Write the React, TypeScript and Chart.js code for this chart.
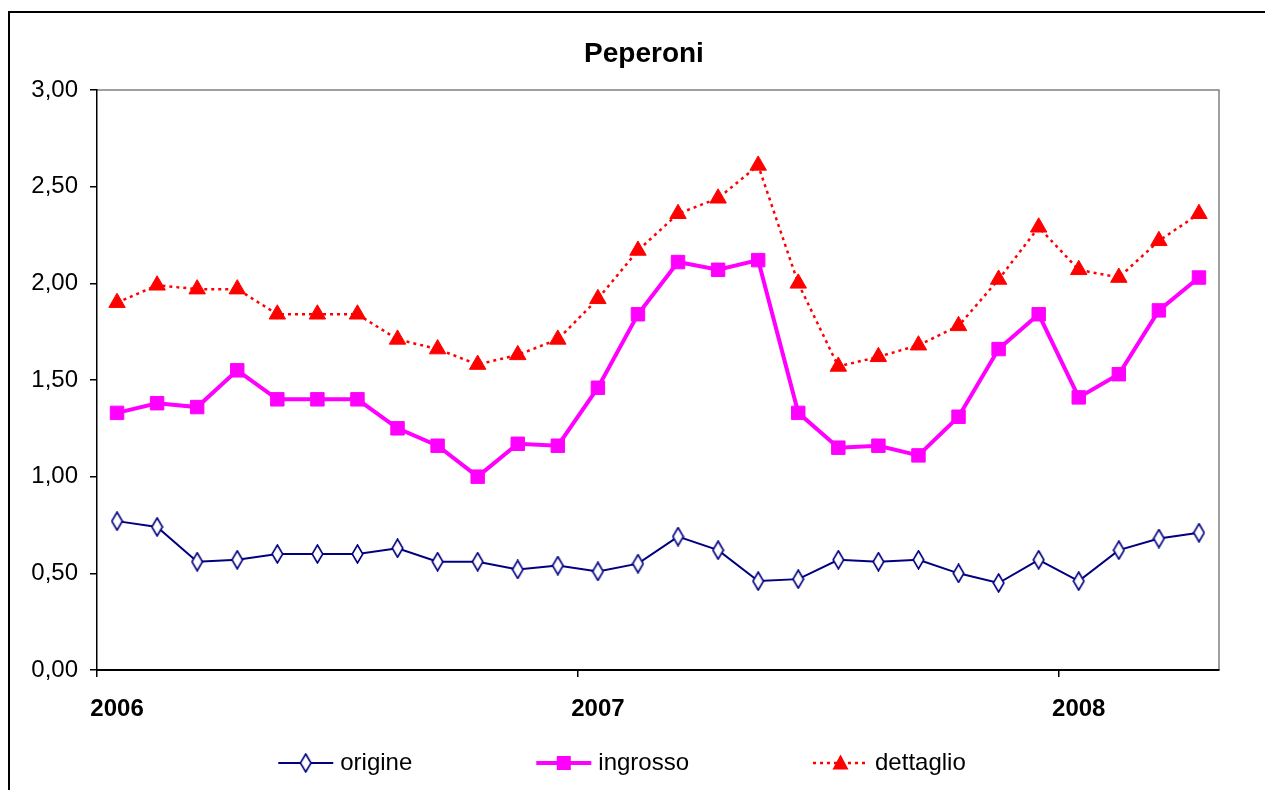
import React, { useEffect, useRef } from 'react';
import { Chart, registerables } from 'chart.js';

Chart.register(...registerables);

const FONT = '"Liberation Sans", Arial, sans-serif';

const months = [
  '2006-01', '2006-02', '2006-03', '2006-04', '2006-05', '2006-06', '2006-07', '2006-08', '2006-09', '2006-10', '2006-11', '2006-12',
  '2007-01', '2007-02', '2007-03', '2007-04', '2007-05', '2007-06', '2007-07', '2007-08', '2007-09', '2007-10', '2007-11', '2007-12',
  '2008-01', '2008-02', '2008-03', '2008-04',
];

const origine = [
  0.77, 0.74, 0.56, 0.57, 0.60, 0.60, 0.60, 0.63, 0.56, 0.56, 0.52, 0.54,
  0.51, 0.55, 0.69, 0.62, 0.46, 0.47, 0.57, 0.56, 0.57, 0.50, 0.45, 0.57,
  0.46, 0.62, 0.68, 0.71,
];

const ingrosso = [
  1.33, 1.38, 1.36, 1.55, 1.40, 1.40, 1.40, 1.25, 1.16, 1.00, 1.17, 1.16,
  1.46, 1.84, 2.11, 2.07, 2.12, 1.33, 1.15, 1.16, 1.11, 1.31, 1.66, 1.84,
  1.41, 1.53, 1.86, 2.03,
];

const dettaglio = [
  1.90, 1.99, 1.97, 1.97, 1.84, 1.84, 1.84, 1.71, 1.66, 1.58, 1.63, 1.71,
  1.92, 2.17, 2.36, 2.44, 2.61, 2.00, 1.57, 1.62, 1.68, 1.78, 2.02, 2.29,
  2.07, 2.03, 2.22, 2.36,
];

const seriesNames = ['origine', 'ingrosso', 'dettaglio'];
const chartTitle = 'Peperoni';

const NAVY = '#000080';
const MAGENTA = '#FF00FF';
const RED = '#FF0000';

function makeDiamond(): HTMLCanvasElement {
  const c = document.createElement('canvas');
  const w = 13;
  const h = 20;
  c.width = w;
  c.height = h;
  const g = c.getContext('2d')!;
  g.beginPath();
  g.moveTo(w / 2, 1);
  g.lineTo(w - 1.2, h / 2);
  g.lineTo(w / 2, h - 1);
  g.lineTo(1.2, h / 2);
  g.closePath();
  g.fillStyle = '#ffffff';
  g.fill();
  g.strokeStyle = NAVY;
  g.lineWidth = 1.6;
  g.stroke();
  return c;
}

export default function App() {
  const ref = useRef<HTMLCanvasElement | null>(null);

  useEffect(() => {
    const canvas = ref.current;
    if (!canvas) return;
    const diamond = makeDiamond();

    const framePlugin = {
      id: 'frameAndText',
      beforeDraw(chart: any) {
        const { ctx, chartArea } = chart;
        ctx.save();
        ctx.strokeStyle = '#808080';
        ctx.lineWidth = 1.5;
        ctx.beginPath();
        ctx.moveTo(chartArea.left, chartArea.top);
        ctx.lineTo(chartArea.right, chartArea.top);
        ctx.lineTo(chartArea.right, chartArea.bottom);
        ctx.stroke();
        ctx.restore();
      },
      afterDraw(chart: any) {
        const { ctx } = chart;
        ctx.save();
        // title
        ctx.fillStyle = '#000';
        ctx.font = `bold 28px ${FONT}`;
        ctx.textAlign = 'center';
        ctx.textBaseline = 'alphabetic';
        ctx.fillText(chartTitle, 644, 62);

        // legend
        ctx.font = `24px ${FONT}`;
        const lineLen = 55;
        const gapText = 7;
        const gapItems = 124;
        const widths = seriesNames.map((n) => lineLen + gapText + ctx.measureText(n).width);
        const total = widths.reduce((a, b) => a + b, 0) + gapItems * (seriesNames.length - 1);
        let x = 622 - total / 2;
        const y = 763;
        seriesNames.forEach((name, i) => {
          ctx.save();
          ctx.beginPath();
          if (i === 0) {
            ctx.strokeStyle = NAVY;
            ctx.lineWidth = 2;
          } else if (i === 1) {
            ctx.strokeStyle = MAGENTA;
            ctx.lineWidth = 4;
          } else {
            ctx.strokeStyle = RED;
            ctx.lineWidth = 2.5;
            ctx.setLineDash([3, 4]);
          }
          ctx.moveTo(x, y);
          ctx.lineTo(x + lineLen, y);
          ctx.stroke();
          ctx.setLineDash([]);
          const cx = x + lineLen / 2;
          if (i === 0) {
            ctx.drawImage(diamond, cx - diamond.width / 2, y - diamond.height / 2);
          } else if (i === 1) {
            ctx.fillStyle = MAGENTA;
            ctx.fillRect(cx - 7, y - 7, 14, 14);
          } else {
            ctx.fillStyle = RED;
            ctx.beginPath();
            ctx.moveTo(cx, y - 8.5);
            ctx.lineTo(cx + 8, y + 6.5);
            ctx.lineTo(cx - 8, y + 6.5);
            ctx.closePath();
            ctx.fill();
          }
          ctx.restore();
          ctx.fillStyle = '#000';
          ctx.textAlign = 'left';
          ctx.textBaseline = 'middle';
          ctx.fillText(name, x + lineLen + gapText, y);
          x += widths[i] + gapItems;
        });
        ctx.restore();
      },
    };

    const chart = new Chart(canvas, {
      type: 'line',
      data: {
        labels: months,
        datasets: [
          {
            label: seriesNames[0],
            data: origine,
            borderColor: NAVY,
            borderWidth: 2,
            pointStyle: diamond as any,
            pointRadius: 6,
            pointBackgroundColor: '#fff',
            pointBorderColor: NAVY,
            tension: 0,
            fill: false,
          },
          {
            label: seriesNames[1],
            data: ingrosso,
            borderColor: MAGENTA,
            borderWidth: 4,
            pointStyle: 'rect',
            pointRadius: 9.5,
            pointBorderWidth: 1,
            pointBackgroundColor: MAGENTA,
            pointBorderColor: MAGENTA,
            tension: 0,
            fill: false,
          },
          {
            label: seriesNames[2],
            data: dettaglio,
            borderColor: RED,
            borderWidth: 2.5,
            borderDash: [3, 4],
            pointStyle: 'triangle',
            pointRadius: 9.5,
            pointBorderWidth: 1,
            pointBackgroundColor: RED,
            pointBorderColor: RED,
            tension: 0,
            fill: false,
          },
        ],
      },
      options: {
        animation: false,
        responsive: false,
        devicePixelRatio: 1,
        layout: { padding: { top: 90, right: 46, bottom: 0, left: 0 } },
        plugins: {
          legend: { display: false },
          title: { display: false },
          tooltip: { enabled: false },
        },
        events: [],
        scales: {
          x: {
            type: 'category',
            offset: true,
            grid: {
              offset: true,
              drawOnChartArea: false,
              drawTicks: true,
              tickLength: 7,
              lineWidth: 1.5,
              color: (c: any) => (typeof c.index === 'number' && c.index % 12 === 0 ? '#000' : 'rgba(0,0,0,0)'),
            },
            border: { display: true, color: '#000', width: 2 },
            ticks: {
              autoSkip: false,
              maxRotation: 0,
              minRotation: 0,
              padding: 18,
              color: '#000',
              font: { family: FONT, size: 24, weight: 'bold' },
              callback: (_v: any, i: number) => (months[i].endsWith('-01') ? months[i].slice(0, 4) : ''),
            },
            afterFit: (s: any) => {
              s.height = 120;
            },
          },
          y: {
            min: 0,
            max: 3,
            grid: {
              drawOnChartArea: false,
              drawTicks: true,
              tickLength: 7,
              lineWidth: 1.5,
              color: '#000',
            },
            border: { display: true, color: '#000', width: 1.5 },
            ticks: {
              stepSize: 0.5,
              padding: 12,
              color: '#000',
              font: { family: FONT, size: 24 },
              callback: (v: any) => Number(v).toFixed(2).replace('.', ','),
            },
            afterFit: (s: any) => {
              s.width = 97;
            },
          },
        },
      },
      plugins: [framePlugin],
    } as any);

    return () => chart.destroy();
  }, []);

  return (
    <div
      style={{
        position: 'fixed',
        left: 0,
        top: 0,
        width: 1265,
        height: 790,
        overflow: 'hidden',
        background: '#fff',
      }}
    >
      <div
        style={{
          position: 'absolute',
          left: 8,
          top: 11,
          width: 1400,
          height: 900,
          border: '2px solid #000',
          boxSizing: 'border-box',
        }}
      />
      <canvas
        ref={ref}
        width={1265}
        height={790}
        style={{ position: 'absolute', left: 0, top: 0, width: 1265, height: 790, display: 'block' }}
      />
    </div>
  );
}
